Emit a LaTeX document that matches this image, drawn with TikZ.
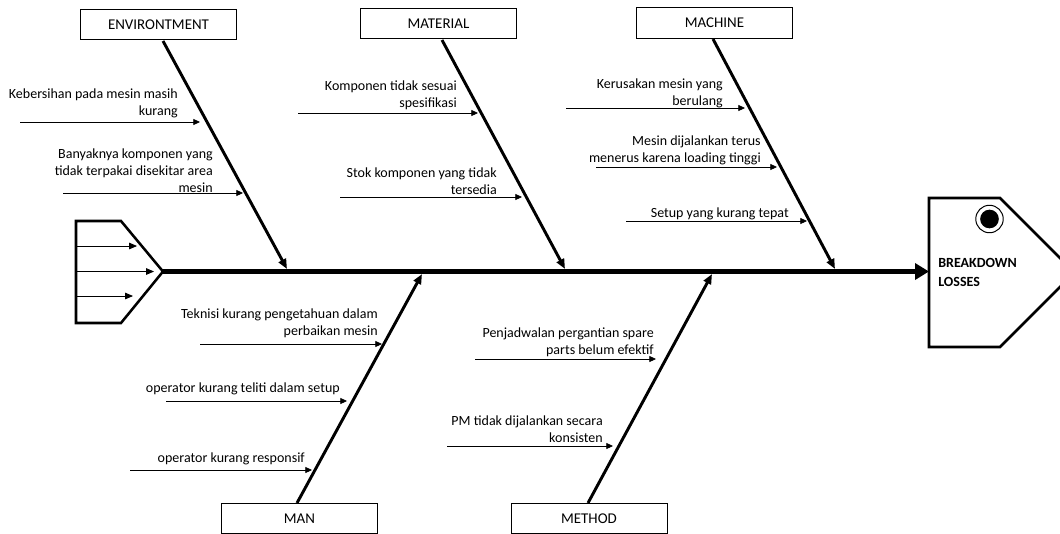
\documentclass[tikz,border=0pt]{standalone}
\usepackage{fontspec}
\setmainfont{Carlito}
\usetikzlibrary{arrows.meta}

\begin{document}
\begin{tikzpicture}[x=0.75pt,y=-0.75pt,
  catbox/.style={draw,line width=0.75pt,minimum width=117pt,minimum height=23pt,inner sep=0pt,font=\fontsize{11.2}{12}\selectfont},
  cause/.style={align=right,inner sep=0pt,anchor=north east,font=\fontsize{10.5}{12.6}\selectfont},
  bone/.style={line width=2.2pt,-{Triangle[length=7.5pt,width=6pt]}},
  sub/.style={line width=0.6pt,-{Triangle[length=5pt,width=4.5pt]}},
  tailarr/.style={line width=0.6pt,-{Triangle[length=6pt,width=5pt]}}]
\useasboundingbox (0,0) rectangle (1060,533);
\clip (0,0) rectangle (1060,533);

\draw[line width=1.9pt,line join=miter] (76,221) -- (121,221) -- (163,271.5) -- (121,323) -- (76,323) -- cycle;
\coordinate(t1a) at (76,246); \coordinate(t1b) at (137,246);
\coordinate(t2a) at (76,271.5); \coordinate(t2b) at (154,271.5);
\coordinate(t3a) at (76,296); \coordinate(t3b) at (133,296);
\draw[tailarr] (t1a)--(t1b); \draw[tailarr] (t2a)--(t2b); \draw[tailarr] (t3a)--(t3b);

\draw[line width=1.9pt,line join=miter] (929,198) -- (1000,198) -- (1074.5,272.5) -- (1000,347) -- (929,347) -- cycle;
\draw[line width=0.75pt] (989.5,219) circle[radius=10.3pt];
\fill (989.5,219) circle[radius=7pt];
\node(head) at (938,272.5) [anchor=west,align=left,inner sep=0pt,font=\fontsize{10.5}{14}\selectfont\bfseries] {BREAKDOWN\\LOSSES};

\coordinate(tail) at (161,271.5);
\coordinate(front) at (929,271.5);
\draw[line width=3.6pt,-{Triangle[length=10.5pt,width=12pt]}] (tail)--(front);

\node[catbox](env) at (158.5,24.5) {ENVIRONTMENT};
\node[catbox](mat) at (438.5,23.5) {MATERIAL};
\node[catbox](mac) at (714.5,23) {MACHINE};
\node[catbox](man) at (299.5,518.5) {MAN};
\node[catbox](met) at (589,518.5) {METHOD};

\coordinate(envs) at (163,41); \coordinate(envj) at (287,269);
\coordinate(mats) at (442,40); \coordinate(matj) at (565,269);
\coordinate(macs) at (713,39); \coordinate(macj) at (835,269);
\coordinate(mans) at (297,503); \coordinate(manj) at (422,274);
\coordinate(mets) at (588,503); \coordinate(metj) at (712,274);
\draw[bone] (envs)--(envj); \draw[bone] (mats)--(matj); \draw[bone] (macs)--(macj);
\draw[bone] (mans)--(manj); \draw[bone] (mets)--(metj);

\node[cause](env1) at (178,88.5) {Kebersihan pada mesin masih\\kurang};
\node[cause](env2) at (213,148.5) {Banyaknya komponen yang\\tidak terpakai disekitar area\\mesin};
\node[cause](mat1) at (457,80.5) {Komponen tidak sesuai\\spesifikasi};
\node[cause](mat2) at (497,167.5) {Stok komponen yang tidak\\tersedia};
\node[cause](mac1) at (723,78.5) {Kerusakan mesin yang\\berulang};
\node[cause](mac2) at (761,135.5) {Mesin dijalankan terus\\menerus karena loading tinggi};
\node[cause](mac3) at (789,207.5) {Setup yang kurang tepat};
\node[cause](man1) at (378,308.5) {Teknisi kurang pengetahuan dalam\\perbaikan mesin};
\node[cause](man2) at (340,382.5) {operator kurang teliti dalam setup};
\node[cause](man3) at (305,452.5) {operator kurang responsif};
\node[cause](met1) at (654,327.5) {Penjadwalan pergantian spare\\parts belum efektif};
\node[cause](met2) at (603,415.5) {PM tidak dijalankan secara\\konsisten};

\coordinate(e1a) at (20,122); \coordinate(e1b) at (200,122);
\coordinate(e2a) at (63,193); \coordinate(e2b) at (243,193);
\coordinate(m1a) at (298,113); \coordinate(m1b) at (478,113);
\coordinate(m2a) at (340,197); \coordinate(m2b) at (522,197);
\coordinate(c1a) at (566,108); \coordinate(c1b) at (745,108);
\coordinate(c2a) at (596,167); \coordinate(c2b) at (777,167);
\coordinate(c3a) at (626,221); \coordinate(c3b) at (807,221);
\coordinate(n1a) at (200,344); \coordinate(n1b) at (382,344);
\coordinate(n2a) at (166,401); \coordinate(n2b) at (347,401);
\coordinate(n3a) at (130,470); \coordinate(n3b) at (312,470);
\coordinate(d1a) at (475,359); \coordinate(d1b) at (656,359);
\coordinate(d2a) at (447,446); \coordinate(d2b) at (613,446);
\draw[sub] (e1a)--(e1b); \draw[sub] (e2a)--(e2b);
\draw[sub] (m1a)--(m1b); \draw[sub] (m2a)--(m2b);
\draw[sub] (c1a)--(c1b); \draw[sub] (c2a)--(c2b); \draw[sub] (c3a)--(c3b);
\draw[sub] (n1a)--(n1b); \draw[sub] (n2a)--(n2b); \draw[sub] (n3a)--(n3b);
\draw[sub] (d1a)--(d1b); \draw[sub] (d2a)--(d2b);
\end{tikzpicture}
\end{document}
